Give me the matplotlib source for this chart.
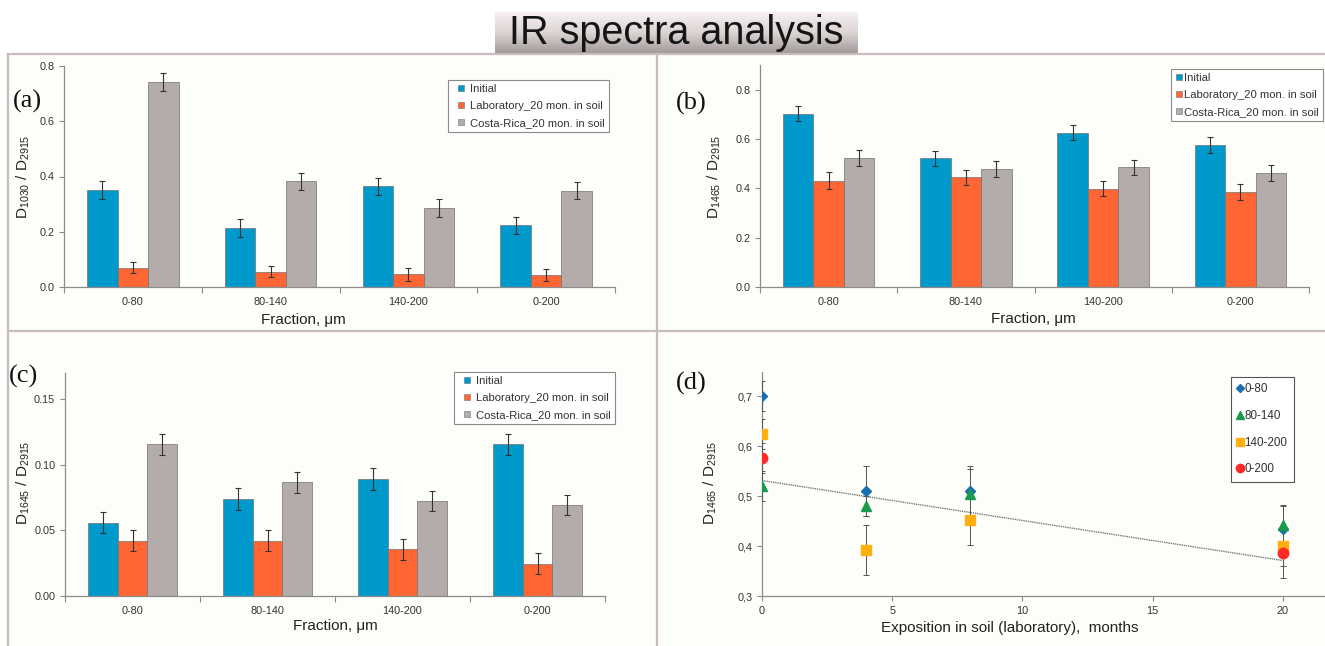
import numpy as np
import matplotlib.pyplot as plt
from matplotlib.lines import Line2D
from matplotlib.ticker import FixedLocator, FuncFormatter

W, H = 1325, 646

fractions = ["0-80", "80-140", "140-200", "0-200"]
series_names = ["Initial", "Laboratory_20 mon. in soil", "Costa-Rica_20 mon. in soil"]
series_colors = ["#0099cc", "#ff6633", "#b4acaa"]

# (a) D1030 / D2915
a_initial = [0.352, 0.213, 0.364, 0.223]
a_lab = [0.070, 0.055, 0.046, 0.042]
a_costa = [0.742, 0.382, 0.285, 0.348]
a_err_initial = [0.032, 0.033, 0.030, 0.032]
a_err_lab = [0.021, 0.020, 0.023, 0.022]
a_err_costa = [0.031, 0.030, 0.033, 0.031]

# (b) D1465 / D2915
b_initial = [0.703, 0.522, 0.626, 0.576]
b_lab = [0.431, 0.445, 0.399, 0.385]
b_costa = [0.524, 0.478, 0.486, 0.461]
b_err_initial = [0.032, 0.031, 0.031, 0.034]
b_err_lab = [0.034, 0.031, 0.032, 0.034]
b_err_costa = [0.032, 0.031, 0.030, 0.032]

# (c) D1645 / D2915
c_initial = [0.0558, 0.0738, 0.0889, 0.1156]
c_lab = [0.0423, 0.0423, 0.0357, 0.0247]
c_costa = [0.1156, 0.0868, 0.0723, 0.0693]
c_err_initial = [0.0080, 0.0084, 0.0084, 0.0081]
c_err_lab = [0.0082, 0.0082, 0.0081, 0.0079]
c_err_costa = [0.0081, 0.0079, 0.0076, 0.0076]

# (d) D1465 / D2915 vs months in laboratory soil
d_names = ["0-80", "80-140", "140-200", "0-200"]
d_months_0_80 = [0, 4, 8, 20]
d_vals_0_80 = [0.701, 0.510, 0.510, 0.435]
d_err_0_80 = [0.030, 0.050, 0.050, 0.045]
d_months_80_140 = [0, 4, 8, 20]
d_vals_80_140 = [0.520, 0.480, 0.505, 0.443]
d_err_80_140 = [0.030, 0.020, 0.050, 0.040]
d_months_140_200 = [0, 4, 8, 20]
d_vals_140_200 = [0.625, 0.392, 0.452, 0.400]
d_err_140_200 = [0.030, 0.050, 0.050, 0.040]
d_months_0_200 = [0, 20]
d_vals_0_200 = [0.576, 0.386]
d_err_0_200 = [0.030, 0.050]
d_trend = [-0.0080, 0.531]  # slope, intercept of the linear trend
d_trend_range = [0, 20]

plt.rcParams["font.family"] = ["Liberation Sans", "DejaVu Sans"]
plt.rcParams["mathtext.default"] = "regular"

AXIS_GRAY = "#8c8c8c"
TEXT_GRAY = "#333333"
PANEL_LINE = "#cbbcbc"


def fx(x):
    return x / W


def fy(y):
    return 1 - y / H


def px_axes(fig, left, top, right, bottom):
    return fig.add_axes([fx(left), fy(bottom), (right - left) / W, (bottom - top) / H])


def style_axes(ax):
    for side in ["top", "right"]:
        ax.spines[side].set_visible(False)
    for side in ["left", "bottom"]:
        ax.spines[side].set_color(AXIS_GRAY)
        ax.spines[side].set_linewidth(0.9)
    ax.set_facecolor("none")
    ax.tick_params(colors=AXIS_GRAY, labelcolor=TEXT_GRAY, labelsize=7.8,
                   direction="out", length=3.5, width=0.8)


def bar_panel(ax, values, errors, ymax, yticks, fmt):
    x = np.arange(len(fractions))
    width = 0.222
    for i, (vals, errs) in enumerate(zip(values, errors)):
        ax.bar(x + (i - 1) * width, vals, width, yerr=errs,
               color=series_colors[i], edgecolor="#707070", linewidth=0.5,
               error_kw=dict(ecolor="#333333", elinewidth=0.8, capsize=2.2,
                             capthick=0.8), zorder=2)
    ax.set_xlim(-0.5, len(fractions) - 0.5)
    ax.set_ylim(0, ymax)
    style_axes(ax)
    ax.set_xticks(x)
    ax.set_xticklabels(fractions)
    ax.xaxis.set_minor_locator(FixedLocator(np.arange(len(fractions) + 1) - 0.5))
    ax.tick_params(axis="x", which="major", length=0, pad=7)
    ax.tick_params(axis="x", which="minor", length=4, color=AXIS_GRAY, width=0.8)
    ax.set_yticks(yticks)
    ax.yaxis.set_major_formatter(FuncFormatter(lambda v, p: fmt % v))


def bar_legend(fig, ax, anchor, loc, handlelength):
    handles = [Line2D([], [], ls="none", marker="s", ms=4.6, markerfacecolor=c,
                      markeredgecolor="#707070", markeredgewidth=0.4)
               for c in series_colors]
    leg = ax.legend(handles, series_names, loc=loc, bbox_to_anchor=anchor,
                    bbox_transform=fig.transFigure, borderaxespad=0,
                    fontsize=8.1, handlelength=handlelength,
                    handletextpad=0.05, labelspacing=0.62, borderpad=0.35,
                    fancybox=False, framealpha=1)
    leg.get_frame().set_edgecolor("#8a8a8a")
    leg.get_frame().set_linewidth(0.8)
    leg.set_zorder(5)
    for t in leg.get_texts():
        t.set_color(TEXT_GRAY)


fig = plt.figure(figsize=(W / 100, H / 100), dpi=100)
fig.patch.set_facecolor("white")

# panel backgrounds and divider lines
bg = fig.add_axes([fx(8), 0, 1 - fx(8), fy(54)])
bg.set_facecolor("#fdfdf9")
bg.set_xticks([])
bg.set_yticks([])
for s in bg.spines.values():
    s.set_visible(False)
bg.set_zorder(-5)
for line in [((fx(8), fx(8)), (fy(54), 0)),
             ((fx(8), 1), (fy(54), fy(54))),
             ((fx(657), fx(657)), (fy(54), 0)),
             ((fx(8), 1), (fy(331), fy(331)))]:
    fig.add_artist(Line2D(line[0], line[1], color=PANEL_LINE, lw=1.6))

# title box with a soft vertical gradient
tax = px_axes(fig, 495, 12, 858, 53)
grad = np.linspace(0, 1, 64).reshape(-1, 1)
tax.imshow(grad, aspect="auto", cmap=plt.matplotlib.colors.LinearSegmentedColormap.from_list(
    "tb", ["#f6f0f0", "#ddd4d4", "#a39b9b"]), extent=[0, 1, 0, 1], origin="upper")
tax.set_axis_off()
fig.text(fx(676), fy(44), "IR spectra analysis", fontsize=28.5, family="Liberation Sans",
         color="#151515", ha="center", va="baseline")

# (a)
ax_a = px_axes(fig, 64, 66, 615, 287)
bar_panel(ax_a, [a_initial, a_lab, a_costa], [a_err_initial, a_err_lab, a_err_costa],
          0.8, [0, 0.2, 0.4, 0.6, 0.8], "%.1f")
bar_legend(fig, ax_a, (fx(609), fy(80)), "upper right", 1.6)

# (b)
ax_b = px_axes(fig, 760, 65, 1309, 287)
bar_panel(ax_b, [b_initial, b_lab, b_costa], [b_err_initial, b_err_lab, b_err_costa],
          0.9, [0, 0.2, 0.4, 0.6, 0.8], "%.1f")
bar_legend(fig, ax_b, (fx(1171), fy(69)), "upper left", 0.75)

# (c)
ax_c = px_axes(fig, 65, 373, 605, 596)
bar_panel(ax_c, [c_initial, c_lab, c_costa], [c_err_initial, c_err_lab, c_err_costa],
          0.17, [0, 0.05, 0.10, 0.15], "%.2f")
bar_legend(fig, ax_c, (fx(615), fy(372)), "upper right", 1.6)

# (d)
ax_d = px_axes(fig, 762, 372, 1340, 596)
d_series = [
    (d_months_0_80, d_vals_0_80, d_err_0_80, "D", "#1a6fb3", 5.5),
    (d_months_80_140, d_vals_80_140, d_err_80_140, "^", "#169c4c", 7),
    (d_months_140_200, d_vals_140_200, d_err_140_200, "s", "#ffb00f", 7),
    (d_months_0_200, d_vals_0_200, d_err_0_200, "o", "#ff2b2b", 7.5),
]
tx = np.array(d_trend_range)
ax_d.plot(tx, np.polyval(d_trend, tx), ls=(0, (1, 0.6)), color="#7a7a7a", lw=1.0, zorder=2)
d_handles = []
for months, vals, errs, mk, col, ms in d_series:
    ax_d.errorbar(months, vals, yerr=errs, fmt="none", ecolor="#555555",
                  elinewidth=0.7, capsize=2, capthick=0.7, zorder=3)
    ax_d.plot(months, vals, ls="none", marker=mk, color=col, ms=ms, zorder=4)
    d_handles.append(Line2D([], [], ls="none", marker=mk, color=col, ms=ms * 0.8))
ax_d.set_xlim(0, 22.2)
ax_d.set_ylim(0.3, 0.748)
style_axes(ax_d)
ax_d.set_xticks([0, 5, 10, 15, 20])
ax_d.set_yticks([0.3, 0.4, 0.5, 0.6, 0.7])
ax_d.yaxis.set_major_formatter(FuncFormatter(lambda v, p: ("%.1f" % v).replace(".", ",")))
leg_d = ax_d.legend(d_handles, d_names, loc="upper left", bbox_to_anchor=(fx(1231), fy(377)),
                    bbox_transform=fig.transFigure, borderaxespad=0, fontsize=8.4,
                    handlelength=0.5, handletextpad=0.1, labelspacing=1.25,
                    borderpad=0.55, fancybox=False, framealpha=1)
leg_d.get_frame().set_edgecolor("#555555")
leg_d.get_frame().set_linewidth(0.8)
for t in leg_d.get_texts():
    t.set_color(TEXT_GRAY)

# axis labels
lab_kw = dict(fontsize=11, color="#222222", ha="center", va="center")
fig.text(fx(303), fy(320), "Fraction, \u03bcm", **lab_kw)
fig.text(fx(1033), fy(319), "Fraction, \u03bcm", **lab_kw)
fig.text(fx(335), fy(626), "Fraction, \u03bcm", **lab_kw)
fig.text(fx(1010), fy(628), "Exposition in soil (laboratory),  months", **lab_kw)
fig.text(fx(23), fy(177), "D$_{1030}$ / D$_{2915}$", rotation=90, **lab_kw)
fig.text(fx(714), fy(177), "D$_{1465}$ / D$_{2915}$", rotation=90, **lab_kw)
fig.text(fx(23), fy(483), "D$_{1645}$ / D$_{2915}$", rotation=90, **lab_kw)
fig.text(fx(710), fy(483), "D$_{1465}$ / D$_{2915}$", rotation=90, **lab_kw)

# panel letters
pl_kw = dict(fontsize=19, family="Liberation Serif", color="#111111", ha="left", va="center")
fig.text(fx(13), fy(101), "(a)", **pl_kw)
fig.text(fx(676), fy(103), "(b)", **pl_kw)
fig.text(fx(9), fy(376), "(c)", **pl_kw)
fig.text(fx(676), fy(383), "(d)", **pl_kw)

fig.savefig("out.png", dpi=100)
